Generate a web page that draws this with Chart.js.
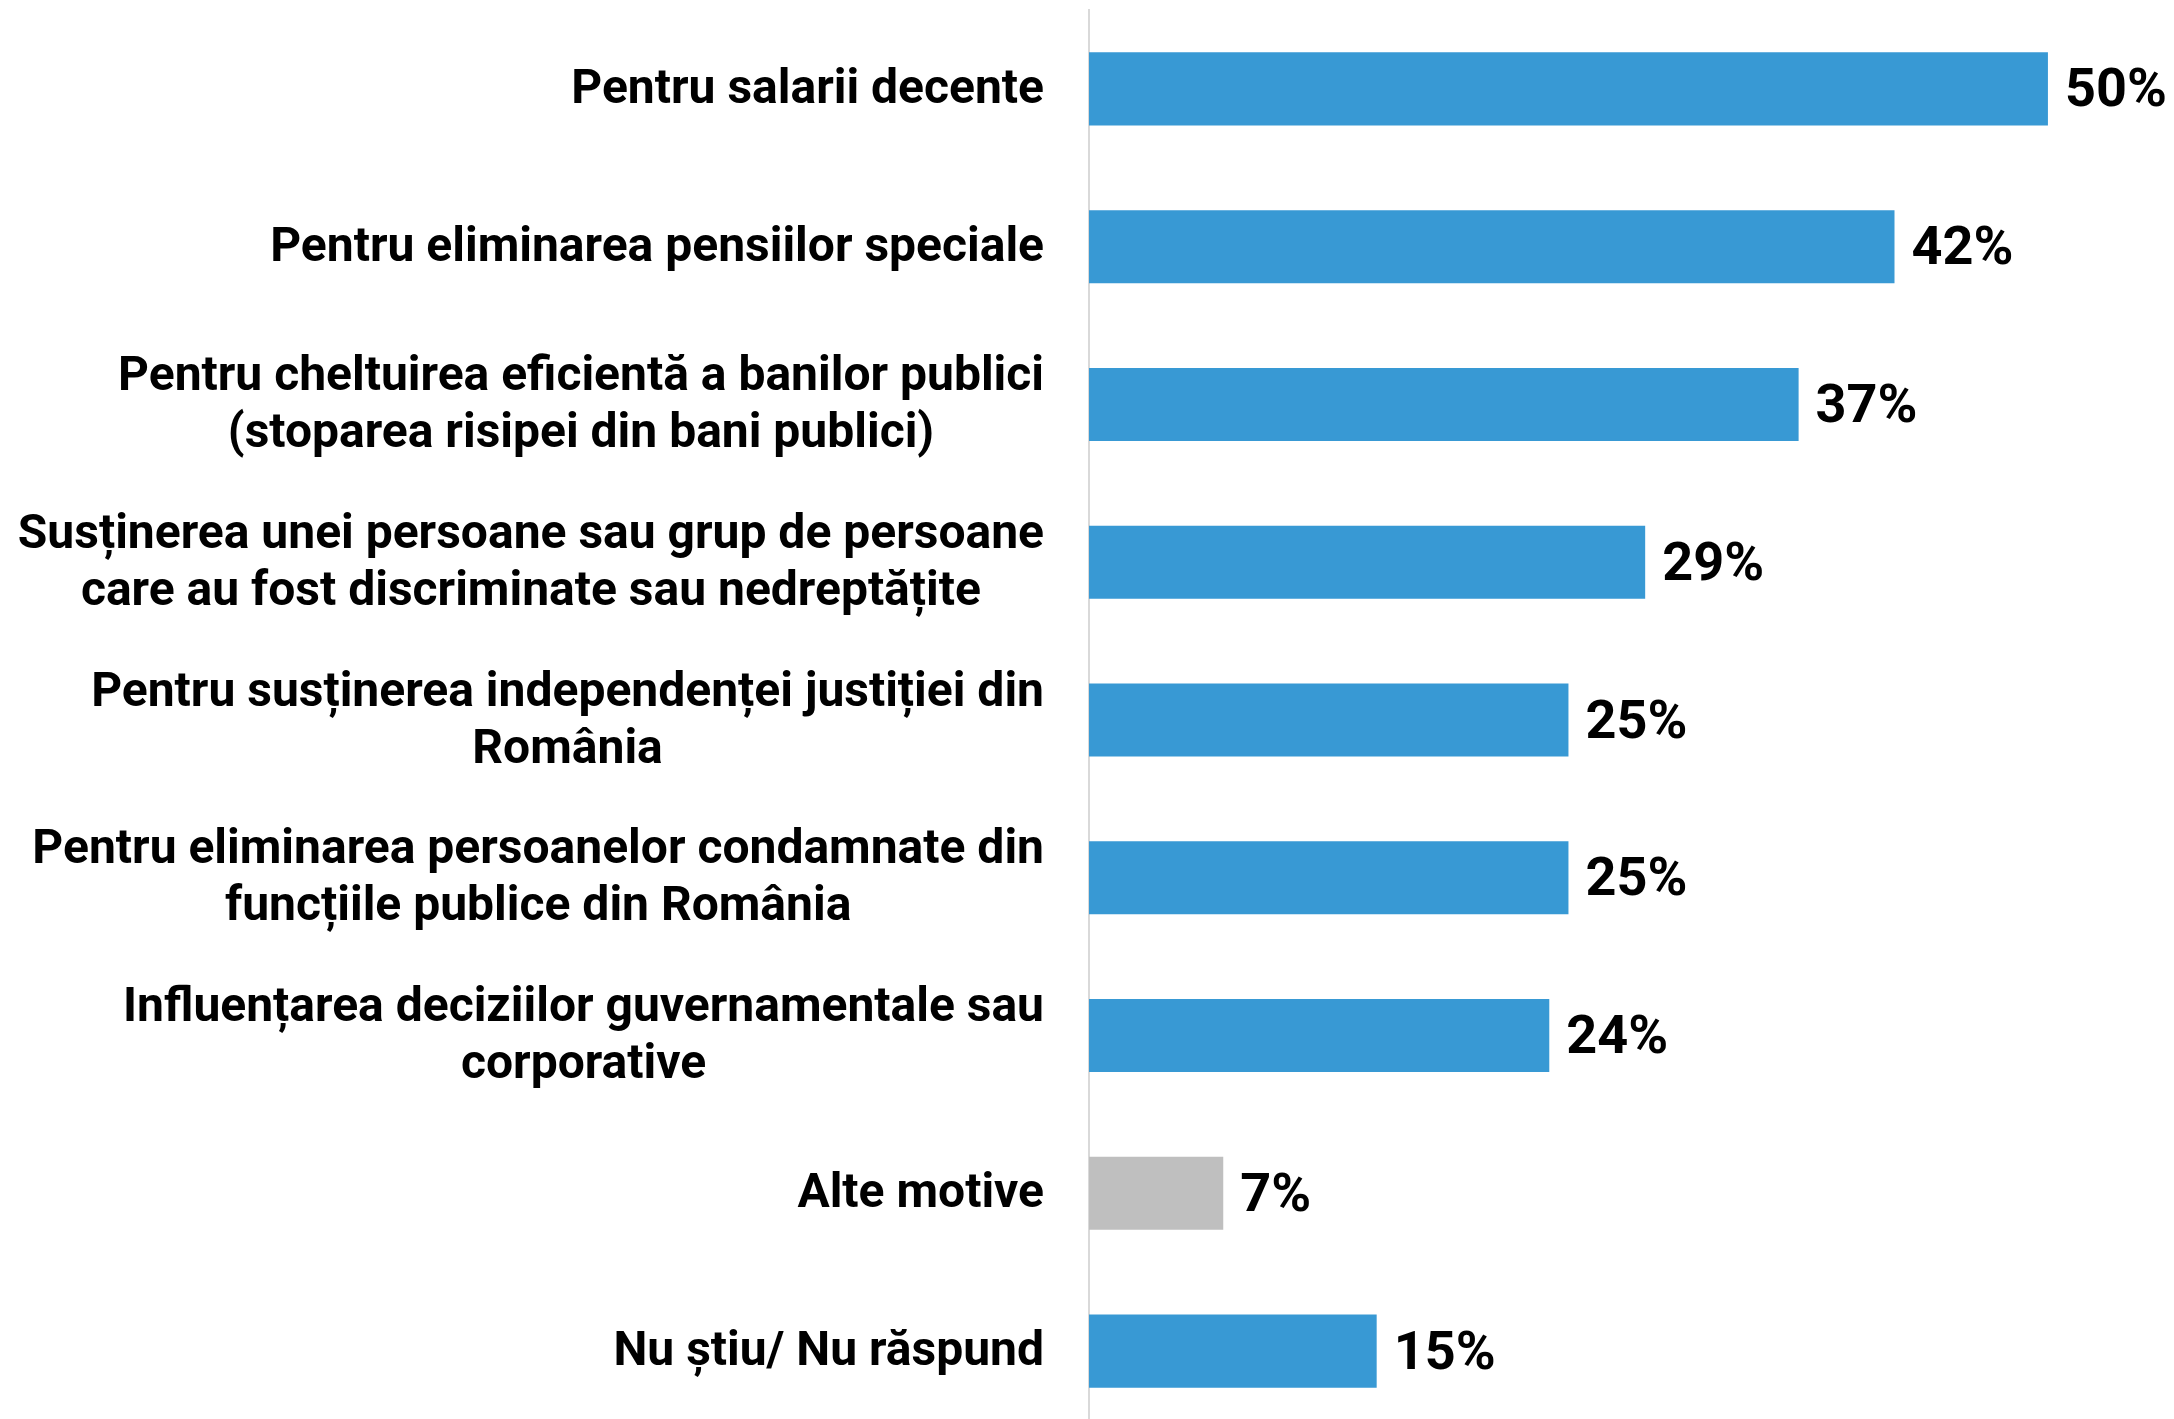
<!DOCTYPE html>
<html>
<head>
<meta charset="utf-8">
<script src="https://cdn.jsdelivr.net/npm/chart.js@4/dist/chart.umd.min.js"></script>
<style>
  html, body { margin: 0; padding: 0; background: #ffffff; overflow: hidden; }
  #wrap { position: relative; width: 2174px; height: 1430px; }
</style>
</head>
<body>
<div id="wrap"><canvas id="c"></canvas></div>
<script>
const categories = [
  ["Pentru salarii decente"],
  ["Pentru eliminarea pensiilor speciale"],
  ["Pentru cheltuirea eficientă a banilor publici", "(stoparea risipei din bani publici)"],
  ["Susținerea unei persoane sau grup de persoane", "care au fost discriminate sau nedreptățite"],
  ["Pentru susținerea independenței justiției din", "România"],
  ["Pentru eliminarea persoanelor condamnate din", "funcțiile publice din România"],
  ["Influențarea deciziilor guvernamentale sau", "corporative"],
  ["Alte motive"],
  ["Nu știu/ Nu răspund"]
];
const values = [50, 42, 37, 29, 25, 25, 24, 7, 15];
const valueLabels = ["50%", "42%", "37%", "29%", "25%", "25%", "24%", "7%", "15%"];
const barColors = ["#3899D4", "#3899D4", "#3899D4", "#3899D4", "#3899D4", "#3899D4", "#3899D4", "#BFBFBF", "#3899D4"];

const LABEL_FONT = 'bold 48px Roboto';
const LABEL_LINE_HEIGHT = 57;
const LABEL_GAP = 45;

const categoryLabelPlugin = {
  id: 'categoryLabels',
  afterDraw(chart) {
    const ctx = chart.ctx;
    const yScale = chart.scales.y;
    const right = chart.chartArea.left - LABEL_GAP;
    ctx.save();
    ctx.font = LABEL_FONT;
    ctx.fillStyle = '#000000';
    ctx.textAlign = 'center';
    ctx.textBaseline = 'middle';
    yScale.ticks.forEach((t, i) => {
      const lines = categories[i];
      const blockW = Math.max(...lines.map(l => ctx.measureText(l).width));
      const cx = right - blockW / 2;
      const cy = yScale.getPixelForTick(i) + 2;
      const y0 = cy - (lines.length - 1) * LABEL_LINE_HEIGHT / 2;
      lines.forEach((l, k) => ctx.fillText(l, cx, y0 + k * LABEL_LINE_HEIGHT));
    });
    ctx.restore();
  }
};

const valueLabelPlugin = {
  id: 'valueLabels',
  afterDatasetsDraw(chart) {
    const ctx = chart.ctx;
    const meta = chart.getDatasetMeta(0);
    ctx.save();
    ctx.font = 'bold 54px Roboto';
    ctx.fillStyle = '#000000';
    ctx.textAlign = 'left';
    ctx.textBaseline = 'middle';
    meta.data.forEach((bar, i) => {
      ctx.fillText(valueLabels[i], bar.x + 17, bar.y + 4);
    });
    ctx.restore();
  }
};

function draw() {
  new Chart(document.getElementById('c'), {
    type: 'bar',
    data: {
      labels: categories,
      datasets: [{
        data: values,
        backgroundColor: barColors,
        borderWidth: 0,
        categoryPercentage: 1,
        barPercentage: 0.463
      }]
    },
    options: {
      indexAxis: 'y',
      responsive: true,
      maintainAspectRatio: false,
      animation: false,
      layout: { padding: { top: 10, right: 11, bottom: 0, left: 0 } },
      plugins: { legend: { display: false }, tooltip: { enabled: false } },
      scales: {
        x: { display: false, min: 0, max: 56 },
        y: {
          grid: { display: false },
          border: { display: true, color: '#D9D9D9', width: 2 },
          ticks: { display: false },
          afterFit(scale) {
            scale.width = 1089;
            scale.paddingTop = 0;
            scale.paddingBottom = 0;
          }
        }
      }
    },
    plugins: [valueLabelPlugin, categoryLabelPlugin]
  });
}

if (document.fonts && document.fonts.load) {
  document.fonts.load('bold 48px Roboto').then(draw, draw);
} else {
  draw();
}
</script>
</body>
</html>
